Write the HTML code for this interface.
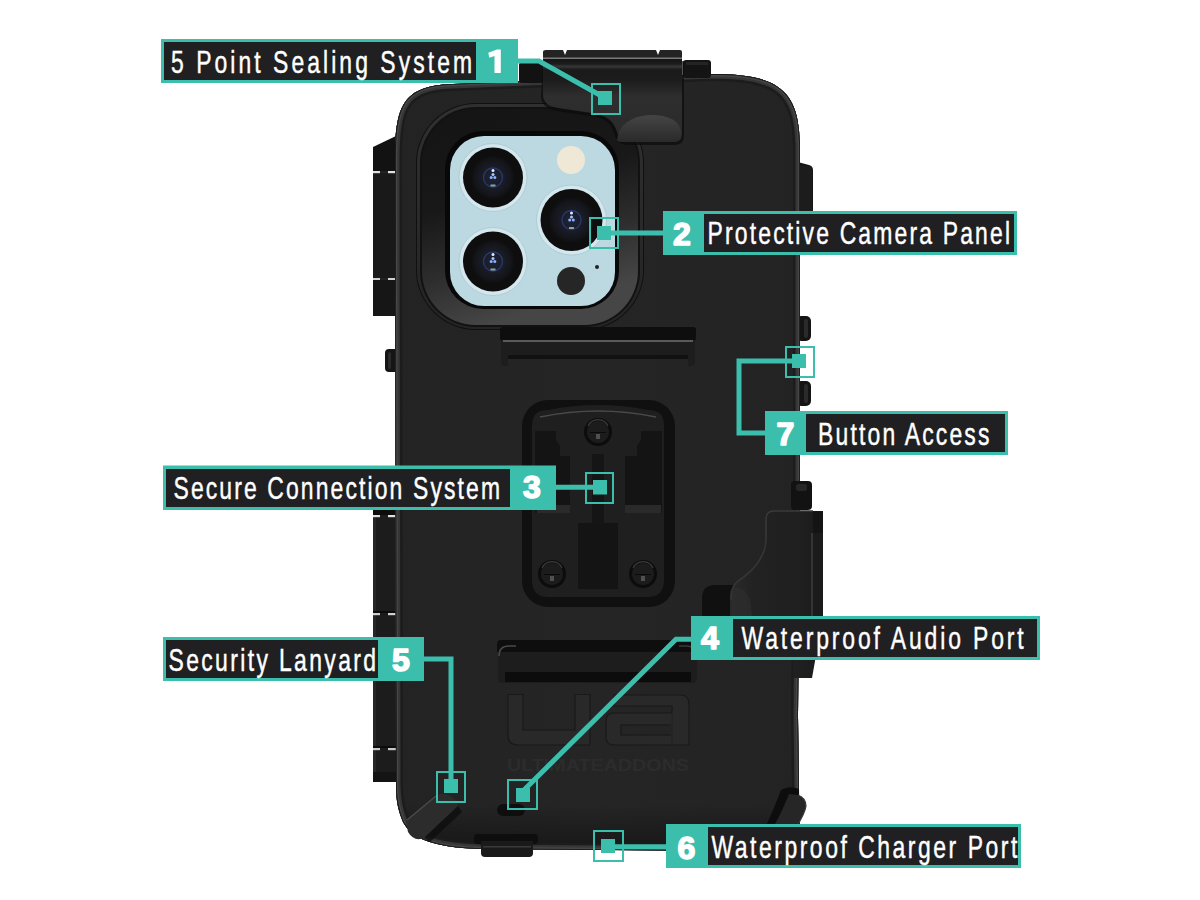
<!DOCTYPE html>
<html><head><meta charset="utf-8">
<style>
html,body{margin:0;padding:0;background:#fff;width:1200px;height:900px;overflow:hidden}
svg{display:block}
</style></head>
<body>
<svg width="1200" height="900" viewBox="0 0 1200 900">
<defs>
  <linearGradient id="bodyg" x1="0" y1="0" x2="1" y2="0">
    <stop offset="0" stop-color="#1a1a1a"/>
    <stop offset="0.03" stop-color="#232323"/>
    <stop offset="0.5" stop-color="#252525"/>
    <stop offset="0.97" stop-color="#232323"/>
    <stop offset="1" stop-color="#1a1a1a"/>
  </linearGradient>
  <radialGradient id="lens" cx="0.5" cy="0.5" r="0.5">
    <stop offset="0" stop-color="#1e2438"/>
    <stop offset="0.45" stop-color="#1a1d28"/>
    <stop offset="0.8" stop-color="#15161b"/>
    <stop offset="1" stop-color="#0e0e0f"/>
  </radialGradient>
</defs>
<rect width="1200" height="900" fill="#fff"/>

<!-- left hinge strips -->
<g>
<path d="M373 147 L396 136 L399 136 L399 316 L373 316 Z" fill="#121212"/>
<rect x="373" y="173" width="26" height="143" fill="#191919"/>
<rect x="373" y="171" width="7" height="2.2" fill="#e0e0e0"/><rect x="388" y="171" width="9" height="2.2" fill="#e0e0e0"/>
<rect x="380" y="171" width="8" height="2.2" fill="#222"/>
<rect x="373" y="278" width="7" height="2.2" fill="#d0d0d0"/><rect x="388" y="278" width="9" height="2.2" fill="#d0d0d0"/>
<rect x="380" y="278" width="8" height="2.2" fill="#222"/>
<rect x="373" y="280" width="26" height="36" fill="#161616"/>
<rect x="385" y="349" width="14" height="23" rx="4" fill="#151515"/>
<rect x="388" y="352" width="3" height="17" rx="1.5" fill="#2a2a2a"/>
<rect x="373" y="508" width="26" height="274" fill="#1c1c1c"/>
<rect x="373" y="508" width="3" height="274" fill="#262626"/>
<rect x="373" y="508" width="26" height="7" fill="#0c0c0c"/>
<rect x="373" y="515" width="7" height="2.2" fill="#e0e0e0"/><rect x="388" y="515" width="9" height="2.2" fill="#e0e0e0"/>
<rect x="373" y="613" width="7" height="2.2" fill="#d0d0d0"/><rect x="388" y="613" width="9" height="2.2" fill="#d0d0d0"/>
<rect x="373" y="611" width="26" height="2" fill="#0c0c0c"/>
<rect x="373" y="748" width="7" height="2.2" fill="#c8c8c8"/><rect x="388" y="748" width="9" height="2.2" fill="#c8c8c8"/>
<rect x="373" y="746" width="26" height="2" fill="#0c0c0c"/>
<rect x="373" y="772" width="26" height="10" fill="#141414"/>
</g>
<!-- right strip top -->
<path d="M786 168 Q786 159 794 161 L809 165 Q813 166 813 170 L813 252 L786 252 Z" fill="#161616"/>
<rect x="790" y="166" width="22" height="86" rx="3" fill="#1c1c1c"/>
<!-- right buttons -->
<rect x="796" y="316" width="15" height="25" rx="5" fill="#141414"/>
<rect x="804" y="319" width="4" height="19" rx="2" fill="#2a2a2a"/>
<rect x="796" y="381" width="15" height="25" rx="5" fill="#141414"/>
<rect x="804" y="384" width="4" height="19" rx="2" fill="#2a2a2a"/>

<!-- main body -->
<clipPath id="bodyclip"><path id="bodyp" d="M395 160 C395 105 403 86 452 84 L713 74 C770 74 795 86 799 130 L800 145 L800 500 L798 716 L799 790 C799 830 785 850 740 851 L480 849 C430 847 412 838 403 822 C398 810 396 800 396 785 Z"/></clipPath>
<linearGradient id="bodyv" x1="0" y1="0" x2="0" y2="1"><stop offset="0" stop-color="#000" stop-opacity="0"/><stop offset="0.93" stop-color="#000" stop-opacity="0"/><stop offset="1" stop-color="#000" stop-opacity="0.45"/></linearGradient>
<g clip-path="url(#bodyclip)">
<rect x="380" y="60" width="440" height="800" fill="url(#bodyg)"/>
<rect x="380" y="60" width="440" height="800" fill="url(#bodyv)"/>
<use href="#bodyp" fill="none" stroke="#1c1c1c" stroke-width="14"/>
<use href="#bodyp" fill="none" stroke="#363636" stroke-width="9"/>
<use href="#bodyp" fill="none" stroke="#464646" stroke-width="4.5"/>
<use href="#bodyp" fill="none" stroke="#161616" stroke-width="1.6"/>
</g>
<!-- camera frame -->
<linearGradient id="frameg" x1="0" y1="0" x2="0.3" y2="1"><stop offset="0" stop-color="#141414"/><stop offset="0.45" stop-color="#181818"/><stop offset="0.75" stop-color="#2e2e2e"/><stop offset="1" stop-color="#464646"/></linearGradient>
<linearGradient id="framerim" x1="0" y1="0" x2="0" y2="1"><stop offset="0" stop-color="#303030"/><stop offset="1" stop-color="#242424"/></linearGradient>
<rect x="416" y="103" width="228" height="227" rx="60" fill="#101010"/>
<rect x="417" y="104" width="226" height="225" rx="59" fill="url(#framerim)"/>
<rect x="420" y="107" width="220" height="220" rx="56" fill="#121212"/>
<rect x="422" y="109" width="216" height="216" rx="54" fill="url(#frameg)"/>
<rect x="445" y="131" width="174" height="178" rx="38" fill="#080808"/>
<rect x="450" y="136" width="165" height="170" rx="34" fill="#bcd9e2"/>
<!-- lenses -->
<circle cx="493" cy="177.5" r="34" fill="#d3e7ed" stroke="#aac6cf" stroke-width="0.8"/>
<circle cx="493" cy="177.5" r="30" fill="#0e0e0f"/>
<circle cx="493" cy="177.5" r="22" fill="url(#lens)"/>
<circle cx="493" cy="177.5" r="9.5" fill="none" stroke="#3a4fa8" stroke-width="1.4" opacity="0.5"/>
<circle cx="493" cy="170.5" r="1.5" fill="#e0ecff"/>
<circle cx="493" cy="174.5" r="1.5" fill="#a8c4ff"/>
<circle cx="491.2" cy="177.5" r="1.5" fill="#8fb0ff"/>
<circle cx="494.8" cy="177.5" r="1.5" fill="#8fb0ff"/>
<rect x="490.5" y="184.5" width="5" height="2" fill="#8aa59e"/>
<circle cx="493" cy="261.5" r="34" fill="#d3e7ed" stroke="#aac6cf" stroke-width="0.8"/>
<circle cx="493" cy="261.5" r="30" fill="#0e0e0f"/>
<circle cx="493" cy="261.5" r="22" fill="url(#lens)"/>
<circle cx="493" cy="261.5" r="9.5" fill="none" stroke="#3a4fa8" stroke-width="1.4" opacity="0.5"/>
<circle cx="493" cy="254.5" r="1.5" fill="#e0ecff"/>
<circle cx="493" cy="258.5" r="1.5" fill="#a8c4ff"/>
<circle cx="491.2" cy="261.5" r="1.5" fill="#8fb0ff"/>
<circle cx="494.8" cy="261.5" r="1.5" fill="#8fb0ff"/>
<rect x="490.5" y="268.5" width="5" height="2" fill="#8aa59e"/>
<circle cx="571.5" cy="220" r="35" fill="#d3e7ed" stroke="#aac6cf" stroke-width="0.8"/>
<circle cx="571.5" cy="220" r="31" fill="#0e0e0f"/>
<circle cx="571.5" cy="220" r="23" fill="url(#lens)"/>
<circle cx="571.5" cy="220" r="9.5" fill="none" stroke="#3a4fa8" stroke-width="1.4" opacity="0.5"/>
<circle cx="571.5" cy="213" r="1.5" fill="#e0ecff"/>
<circle cx="571.5" cy="217" r="1.5" fill="#a8c4ff"/>
<circle cx="569.7" cy="220" r="1.5" fill="#8fb0ff"/>
<circle cx="573.3" cy="220" r="1.5" fill="#8fb0ff"/>
<rect x="569.0" y="227" width="5" height="2" fill="#8aa59e"/>
<circle cx="571" cy="160" r="14" fill="#efe8d6"/>
<circle cx="571" cy="281" r="14" fill="#262626"/>
<circle cx="597" cy="267" r="2" fill="#222"/>
<!-- top clip -->
<rect x="519" y="62" width="25" height="21" rx="3" fill="#121212"/>
<rect x="683" y="60" width="28" height="18" rx="3" fill="#141414"/>
<rect x="686" y="62" width="22" height="3" fill="#242424"/>
<path d="M543 52 Q543 50 546 50 L563 50 L565 55 L567 50 L656 50 L658 55 L660 50 L680 50 Q682 50 682 52 L682 59 L543 59 Z" fill="#242424"/>
<rect x="543" y="57.5" width="139" height="2" fill="#7a7a7a"/>
<linearGradient id="clipg" gradientUnits="userSpaceOnUse" x1="0" y1="59" x2="0" y2="142"><stop offset="0" stop-color="#141414"/><stop offset="0.06" stop-color="#1c1c1c"/><stop offset="0.09" stop-color="#363636"/><stop offset="0.13" stop-color="#1a1a1a"/><stop offset="0.25" stop-color="#1c1c1c"/><stop offset="0.45" stop-color="#2e2e2e"/><stop offset="1" stop-color="#2a2a2a"/></linearGradient>
<path d="M543 61 L684 61 L684 136 Q684 145 674 145 L628 145 Q617 145 614 133 Q610 120 597 117 L557 111 Q541 108 541 96 Z" fill="#0c0c0c" opacity="0.7"/>
<path d="M543 59 L682 59 L682 134 Q682 142 674 142 L630 142 Q619 142 617 132 Q613 118 598 114 L558 108 Q543 106 543 94 Z" fill="url(#clipg)"/>
<linearGradient id="bumpg" x1="0" y1="0" x2="0" y2="1"><stop offset="0" stop-color="#454545"/><stop offset="1" stop-color="#2a2a2a"/></linearGradient>
<path d="M617 140 Q620 117 650 115 Q679 115 681 132 L681 136 Q680 142 672 142 L624 142 Q617 142 617 140 Z" fill="url(#bumpg)"/>

<!-- bars -->
<rect x="500" y="327" width="196" height="14" rx="3" fill="#0e0e0e"/>
<path d="M501 340 L695 340 L695 362 Q695 366 691 366 L688 366 L688 355 L508 355 L508 366 L505 366 Q501 366 501 362 Z" fill="#1d1d1d"/>
<rect x="503" y="340" width="190" height="2" fill="#5a5a5a"/>
<rect x="508" y="355" width="180" height="4" fill="#111"/>
<rect x="497" y="640" width="201" height="14" rx="4" fill="#0e0e0e"/>
<path d="M498 652 L697 652 L697 678 Q697 683 692 683 L503 683 Q498 683 498 678 Z" fill="#1d1d1d"/>
<path d="M499 656 Q499 646 509 646 L516 646" stroke="#4a4a4a" stroke-width="1.5" fill="none"/><path d="M696 656 Q696 646 686 646 L679 646" stroke="#3a3a3a" stroke-width="1.5" fill="none"/>
<rect x="505" y="672" width="186" height="10" fill="#0c0c0c"/>

<!-- mount plate -->
<rect x="522" y="400" width="153" height="207" rx="26" fill="#101010"/>
<path d="M532 425 Q532 410 548 410 Q598 400 648 410 Q664 410 664 425 L664 580 Q664 597 648 597 L548 597 Q532 597 532 580 Z" fill="#1f1f1f"/>
<path d="M540 417 Q598 405 656 417" stroke="#4a4a4a" stroke-width="1.5" fill="none"/>
<path d="M535 431 L556 431 L556 440 L560 446 L560 456 L570 456 L570 513 L535 513 Z" fill="#141414"/>
<path d="M662 431 L641 431 L641 440 L637 446 L637 456 L625 456 L625 513 L662 513 Z" fill="#141414"/>
<rect x="537" y="505" width="33" height="8" fill="#2a2a2a"/>
<rect x="625" y="505" width="36" height="8" fill="#2a2a2a"/>
<rect x="578" y="523" width="40" height="66" fill="#141414"/>
<rect x="592" y="454" width="12" height="70" fill="#151515"/>
<g fill="#1c1c1c" stroke="#0c0c0c" stroke-width="3">
<circle cx="598" cy="432" r="12.5"/>
<circle cx="552" cy="574" r="12.5"/>
<circle cx="643" cy="574" r="12.5"/>
</g>
<g fill="none" stroke="#3c3c3c" stroke-width="1.2">
<path d="M588 426 A11 11 0 0 1 608 426"/>
<path d="M542 568 A11 11 0 0 1 562 568"/>
<path d="M633 568 A11 11 0 0 1 653 568"/>
</g>
<g fill="#505050">
<rect x="590" y="432" width="16" height="1" fill="#0a0a0a"/><rect x="596" y="434" width="4" height="5"/>
<rect x="544" y="574" width="16" height="1" fill="#0a0a0a"/><rect x="550" y="576" width="4" height="5"/>
<rect x="635" y="574" width="16" height="1" fill="#0a0a0a"/><rect x="641" y="576" width="4" height="5"/>
</g>

<!-- UA logo -->
<g fill="#292929" stroke="#191919" stroke-width="1.2">
<path d="M508 694.5 L523 694.5 L523 730 L575 730 L575 694.5 L590 694.5 L590 745 L518 745 Q508 745 508 735 Z"/>
<path d="M614 695 L680 695 Q689 695 689 704 L689 745 L672 745 L672 706 L614 706 Z"/>
<path fill-rule="evenodd" d="M614 713 L672 713 L672 745 L614 745 Q606 745 606 737 L606 721 Q606 713 614 713 Z M621 725 L672 725 L672 735 L621 735 Z"/>
</g>
<path d="M672 713 L672 745" stroke="#292929" stroke-width="1.5"/>
<text x="507" y="771" font-family="Liberation Sans" font-weight="bold" font-size="17" fill="#2c2c2c" textLength="182" lengthAdjust="spacingAndGlyphs">ULTIMATEADDONS</text>

<!-- right clip -->
<rect x="791" y="481" width="21" height="29" rx="4" fill="#121212"/>
<rect x="796" y="484" width="11" height="7" rx="2" fill="#262626"/>
<path d="M702 616 L702 598 Q702 585 716 585 L733 585 L733 616 Z" fill="#101010"/>
<linearGradient id="rclipg" x1="0" y1="0" x2="1" y2="0"><stop offset="0" stop-color="#2a2a2a"/><stop offset="0.25" stop-color="#222"/><stop offset="0.8" stop-color="#1f1f1f"/><stop offset="1" stop-color="#181818"/></linearGradient>
<path d="M774 511 L813 511 L813 533 L823 533 L823 616 L812 678 L793 678 L793 660 L730 660 L730 596 Q730 586 738 581 Q752 572 759 561 Q766 550 766 540 L766 519 Q766 511 774 511 Z" fill="url(#rclipg)"/>
<path d="M766 540 L766 519 Q766 511 774 511 L813 511" stroke="#3a3a3a" stroke-width="1.5" fill="none"/>
<path d="M731 600 Q731 586 738 581 Q752 572 759 561 Q766 550 766 540" stroke="#363636" stroke-width="1.5" fill="none"/>
<rect x="813" y="511" width="10" height="22" fill="#141414"/>
<rect x="811" y="533" width="12" height="83" fill="#1b1b1b"/>
<rect x="811" y="533" width="2" height="83" fill="#353535"/>
<path d="M732 588 Q745 585 750 600 L752 616 L732 616 Z" fill="#2e2e2e" opacity="0.7"/>
<!-- bottom corner pieces -->
<path d="M781 790 Q789 785 799 789 L800 826 L766 826 Q775 806 781 790 Z" fill="#0d0d0d"/>
<path d="M789 794 L798 795 Q806 798 806 806 Q805 813 797 826 L774 826 Q783 810 789 794 Z" fill="#262626"/>
<path d="M798 795 Q806 798 806 806 Q805 813 797 826" stroke="#3a3a3a" stroke-width="1.2" fill="none"/>
<path d="M406 821 L436 796 Q446 790 455 800 L458 806 L424 838 Q414 842 408 832 Z" fill="#2c2c2c"/>
<path d="M424 838 L458 806 L462 812 L430 842 Z" fill="#0e0e0e" opacity="0.8"/>
<path d="M407 820 L436 796" stroke="#4a4a4a" stroke-width="1.5"/>

<!-- bottom -->
<rect x="474" y="834" width="64" height="10" rx="4" fill="#0e0e0e"/>
<path d="M481 841 L533 841 L533 853 Q533 857 529 857 L485 857 Q481 857 481 853 Z" fill="#1a1a1a"/>
<rect x="483" y="846" width="48" height="1.5" fill="#3a3a3a"/>
<rect x="497" y="804" width="28" height="12" rx="6" fill="#0e0e0e"/>

<!-- ===== LABELS ===== -->
<g font-family="Liberation Sans" fill="#fff">
<!-- teal lines -->
<g stroke="#3cbead" stroke-width="5" fill="none" stroke-linejoin="miter">
  <polyline points="517,61 539,61 605,98"/>
  <polyline points="704,233 604,233"/>
  <polyline points="556,487.3 600,487.3"/>
  <polyline points="691,639.3 676,639.3 520,794"/>
  <polyline points="424,659 451,659 451,786"/>
  <polyline points="666,846.8 608,846.8"/>
  <polyline points="765,433 739,433 739,361 799,361"/>
</g>
<g stroke="#3cbead" stroke-width="2" fill="none">
  <rect x="592" y="84" width="28" height="30"/>
  <rect x="590" y="218" width="28" height="30"/>
  <rect x="586" y="473" width="27" height="30"/>
  <rect x="508" y="780" width="29" height="29"/>
  <rect x="437" y="772" width="28" height="30"/>
  <rect x="594" y="831" width="29" height="30"/>
  <rect x="786" y="347" width="28" height="30"/>
</g>
<g fill="#3cbead">
  <rect x="598" y="91" width="14" height="14"/>
  <rect x="597" y="226" width="14" height="14"/>
  <rect x="593" y="480" width="14" height="14.5"/>
  <rect x="516" y="788" width="14" height="14"/>
  <rect x="444" y="779" width="14" height="14"/>
  <rect x="601" y="839" width="14" height="14"/>
  <rect x="792" y="354" width="14" height="14"/>
</g>

<!-- label 1 -->
<rect x="161" y="39" width="357" height="44" fill="#3cbead"/>
<rect x="164" y="42" width="312" height="38" fill="#201f21"/>
<path d="M488.3 52.8 L497 49.5 L500.8 49.5 L500.8 73 L494.5 73 L494.5 56 L489.3 57.8 Z" fill="#fff"/>
<!-- label 2 -->
<rect x="663" y="211" width="354" height="44" fill="#3cbead"/>
<rect x="704" y="214" width="310" height="38" fill="#201f21"/>
<!-- label 3 -->
<rect x="163" y="465.5" width="393" height="44.5" fill="#3cbead"/>
<rect x="166" y="469" width="344" height="38" fill="#201f21"/>
<!-- label 4 -->
<rect x="691" y="616" width="349" height="44" fill="#3cbead"/>
<rect x="733" y="619" width="304" height="38" fill="#201f21"/>
<!-- label 5 -->
<rect x="163" y="637" width="261" height="44" fill="#3cbead"/>
<rect x="166" y="640" width="212" height="38" fill="#201f21"/>
<!-- label 6 -->
<rect x="666" y="824" width="355" height="44" fill="#3cbead"/>
<rect x="708" y="827" width="310" height="38" fill="#201f21"/>
<!-- label 7 -->
<rect x="765" y="411" width="243" height="44" fill="#3cbead"/>
<rect x="806" y="414" width="199" height="38" fill="#201f21"/>

<g font-size="31" stroke="#fff" stroke-width="0.45">
<text transform="translate(171.0,72.5) scale(0.74,1)" textLength="406.8" lengthAdjust="spacing">5 Point Sealing System</text>
<text transform="translate(707.5,244.0) scale(0.74,1)" textLength="408.8" lengthAdjust="spacing">Protective Camera Panel</text>
<text transform="translate(173.5,498.5) scale(0.74,1)" textLength="441.2" lengthAdjust="spacing">Secure Connection System</text>
<text transform="translate(741.5,649.0) scale(0.74,1)" textLength="381.4" lengthAdjust="spacing">Waterproof Audio Port</text>
<text transform="translate(168.5,671.0) scale(0.74,1)" textLength="280.4" lengthAdjust="spacing">Security Lanyard</text>
<text transform="translate(711.5,858.0) scale(0.74,1)" textLength="413.2" lengthAdjust="spacing">Waterproof Charger Port</text>
<text transform="translate(818.0,444.5) scale(0.74,1)" textLength="231.7" lengthAdjust="spacing">Button Access</text>
</g>
<g font-size="32" font-weight="bold" text-anchor="middle" stroke="#fff" stroke-width="1.6" stroke-linejoin="round">
<text x="682" y="244.5">2</text>
<text x="532" y="497.5">3</text>
<text x="710" y="649">4</text>
<text x="401" y="670.5">5</text>
<text x="686.5" y="859">6</text>
<text x="785.5" y="444.5">7</text>
</g>
</g>
</svg>
</body></html>
